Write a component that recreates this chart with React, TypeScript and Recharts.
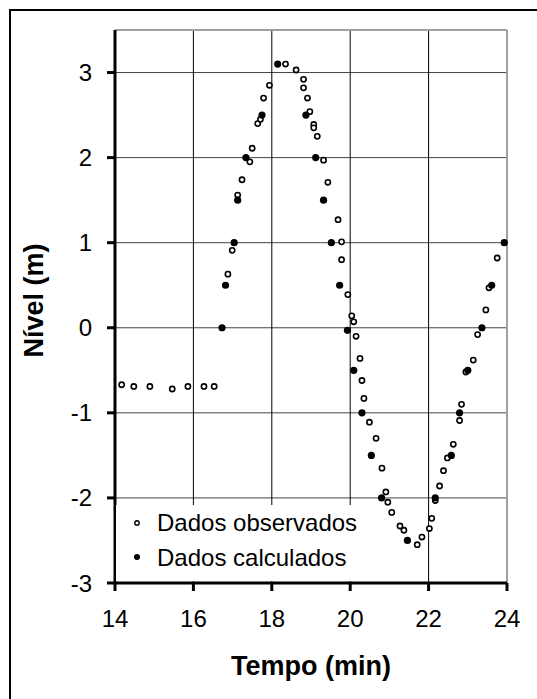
import React from "react";
import {
  CartesianGrid,
  Label,
  Legend,
  ReferenceLine,
  Scatter,
  ScatterChart,
  XAxis,
  YAxis,
} from "recharts";

// tempo (min) / nível (m)
const observedT = [
  14.17, 14.48, 14.89, 15.46, 15.86, 16.27, 16.53, 16.88, 16.99, 17.13, 17.24,
  17.44, 17.5, 17.64, 17.71, 17.79, 17.94, 18.35, 18.62, 18.81, 18.81, 18.91,
  18.97, 19.07, 19.07, 19.16, 19.32, 19.43, 19.69, 19.78, 19.78, 19.94, 20.04,
  20.09, 20.15, 20.25, 20.3, 20.35, 20.49, 20.66, 20.81, 20.91, 20.96, 21.06,
  21.27, 21.37, 21.71, 21.83, 22.02, 22.08, 22.17, 22.28, 22.38, 22.48, 22.63,
  22.79, 22.84, 22.95, 23.14, 23.25, 23.46, 23.54, 23.75,
];
const observedN = [
  -0.67, -0.69, -0.69, -0.72, -0.69, -0.69, -0.69, 0.63, 0.91, 1.56, 1.74,
  1.95, 2.11, 2.4, 2.45, 2.7, 2.85, 3.1, 3.03, 2.92, 2.82, 2.7, 2.54, 2.39,
  2.35, 2.25, 1.97, 1.71, 1.27, 1.01, 0.8, 0.39, 0.14, 0.07, -0.1, -0.36,
  -0.62, -0.83, -1.11, -1.3, -1.65, -1.93, -2.05, -2.17, -2.33, -2.38, -2.55,
  -2.46, -2.36, -2.24, -2.03, -1.86, -1.68, -1.53, -1.37, -1.09, -0.9, -0.52,
  -0.38, -0.08, 0.21, 0.47, 0.82,
];
const calculatedT = [
  16.73, 16.82, 17.04, 17.13, 17.34, 17.75, 18.15, 18.87, 19.12, 19.32, 19.52,
  19.73, 19.93, 20.09, 20.3, 20.54, 20.8, 21.46, 22.17, 22.58, 22.79, 23.0,
  23.36, 23.61, 23.93,
];
const calculatedN = [
  0.0, 0.5, 1.0, 1.5, 2.0, 2.5, 3.1, 2.5, 2.0, 1.5, 1.0, 0.5, -0.03, -0.5,
  -1.0, -1.5, -2.0, -2.5, -2.0, -1.5, -1.0, -0.5, 0.0, 0.5, 1.0,
];
const xTicks = [14, 16, 18, 20, 22, 24];
const yTicks = [-3, -2, -1, 0, 1, 2, 3];
const legendLabels = ["Dados observados", "Dados calculados"];

const observed = observedT.map((t, i) => ({ t, n: observedN[i] }));
const calculated = calculatedT.map((t, i) => ({ t, n: calculatedN[i] }));

const FONT = "'Liberation Sans', Arial, sans-serif";

const OpenDot = (p: any) => (
  <circle cx={p.cx} cy={p.cy} r={2.6} fill="#fff" stroke="#000" strokeWidth={1.6} />
);
const FilledDot = (p: any) => <circle cx={p.cx} cy={p.cy} r={3.6} fill="#000" />;

function LegendBox() {
  return (
    <svg width={250} height={76} style={{ display: "block", background: "#fff" }}>
      <circle cx={21} cy={18} r={2.2} fill="#fff" stroke="#000" strokeWidth={1.4} />
      <text x={41} y={26} fontFamily={FONT} fontSize={24} fill="#000">
        {legendLabels[0]}
      </text>
      <circle cx={21} cy={52} r={3} fill="#000" />
      <text x={41} y={61} fontFamily={FONT} fontSize={24} fill="#000">
        {legendLabels[1]}
      </text>
    </svg>
  );
}

export default function App() {
  return (
    <div
      style={{
        position: "absolute",
        left: 0,
        top: 0,
        width: 537,
        height: 699,
        overflow: "hidden",
        background: "#fff",
      }}
    >
      <div
        style={{
          position: "absolute",
          left: 9,
          top: 9,
          width: 600,
          height: 800,
          border: "2px solid #000",
        }}
      />
      <div style={{ position: "absolute", left: 0, top: 0 }}>
        <ScatterChart
          width={537}
          height={699}
          margin={{ top: 30, right: 30, bottom: 0, left: 0 }}
        >
          <CartesianGrid vertical={false} stroke="#444" strokeWidth={1} />
          <CartesianGrid horizontal={false} stroke="#000" strokeWidth={1} />
          <ReferenceLine y={3.5} stroke="#a0a0a0" strokeWidth={2} />
          <ReferenceLine x={24} stroke="#a0a0a0" strokeWidth={2} />
          <XAxis
            type="number"
            dataKey="t"
            domain={[14, 24]}
            ticks={xTicks}
            height={116}
            axisLine={{ stroke: "#000", strokeWidth: 3 }}
            tickLine={{ stroke: "#000", strokeWidth: 3 }}
            tickSize={8}
            tickMargin={19}
            tick={{ fill: "#000", fontSize: 24, fontFamily: FONT }}
          >
            <Label
              content={({ viewBox }: any) => (
                <text
                  x={viewBox.x + viewBox.width / 2}
                  y={viewBox.y + 92}
                  textAnchor="middle"
                  fontFamily={FONT}
                  fontWeight="bold"
                  fontSize={27}
                  fill="#000"
                >
                  Tempo (min)
                </text>
              )}
            />
          </XAxis>
          <YAxis
            type="number"
            dataKey="n"
            domain={[-3, 3.5]}
            ticks={yTicks}
            width={115}
            axisLine={{ stroke: "#000", strokeWidth: 3 }}
            tickLine={{ stroke: "#000", strokeWidth: 3 }}
            tickSize={8}
            tickMargin={15}
            tick={{ fill: "#000", fontSize: 24, fontFamily: FONT }}
          >
            <Label
              content={({ viewBox }: any) => (
                <text
                  transform={`translate(${viewBox.x + 43}, ${
                    viewBox.y + viewBox.height / 2 - 6
                  }) rotate(-90)`}
                  textAnchor="middle"
                  fontFamily={FONT}
                  fontWeight="bold"
                  fontSize={27}
                  fill="#000"
                >
                  Nível (m)
                </text>
              )}
            />
          </YAxis>
          <Legend
            layout="horizontal"
            verticalAlign="middle"
            align="center"
            wrapperStyle={{ left: 116, top: 505, width: 250, height: 76 }}
            content={() => <LegendBox />}
          />
          <Scatter
            name={legendLabels[0]}
            data={observed}
            shape={OpenDot}
            isAnimationActive={false}
          />
          <Scatter
            name={legendLabels[1]}
            data={calculated}
            shape={FilledDot}
            isAnimationActive={false}
          />
        </ScatterChart>
      </div>
    </div>
  );
}
